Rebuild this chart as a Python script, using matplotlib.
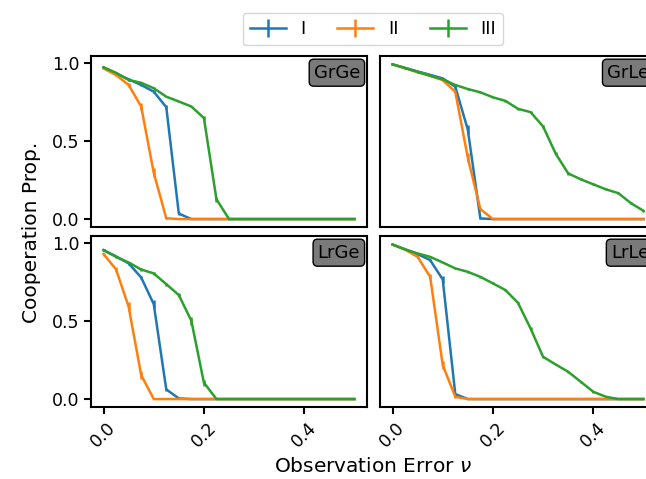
import matplotlib
matplotlib.use("Agg")
import matplotlib.pyplot as plt

nu = [0.0, 0.025, 0.05, 0.075, 0.1, 0.125, 0.15, 0.175, 0.2, 0.225, 0.25,
      0.275, 0.3, 0.325, 0.35, 0.375, 0.4, 0.425, 0.45, 0.475, 0.5]

panels = ["GrGe", "GrLe", "LrGe", "LrLe"]
series = ["I", "II", "III"]
colors = ["#1f77b4", "#ff7f0e", "#2ca02c"]

# GrGe
grge_I = [0.973, 0.934, 0.896, 0.860, 0.817, 0.718, 0.035, 0.0, 0.0, 0.0, 0.0,
          0.0, 0.0, 0.0, 0.0, 0.0, 0.0, 0.0, 0.0, 0.0, 0.0]
grge_II = [0.966, 0.924, 0.860, 0.722, 0.297, 0.005, 0.0, 0.0, 0.0, 0.0, 0.0,
           0.0, 0.0, 0.0, 0.0, 0.0, 0.0, 0.0, 0.0, 0.0, 0.0]
grge_III = [0.973, 0.938, 0.892, 0.874, 0.839, 0.785, 0.754, 0.722, 0.648, 0.127, 0.0,
            0.0, 0.0, 0.0, 0.0, 0.0, 0.0, 0.0, 0.0, 0.0, 0.0]
grge_I_err = [0.005, 0.005, 0.008, 0.008, 0.01, 0.015, 0.01, 0.0, 0.0, 0.0, 0.0,
              0.0, 0.0, 0.0, 0.0, 0.0, 0.0, 0.0, 0.0, 0.0, 0.0]
grge_II_err = [0.005, 0.008, 0.01, 0.025, 0.03, 0.005, 0.0, 0.0, 0.0, 0.0, 0.0,
               0.0, 0.0, 0.0, 0.0, 0.0, 0.0, 0.0, 0.0, 0.0, 0.0]
grge_III_err = [0.005, 0.005, 0.005, 0.005, 0.005, 0.005, 0.005, 0.005, 0.01, 0.015, 0.0,
                0.0, 0.0, 0.0, 0.0, 0.0, 0.0, 0.0, 0.0, 0.0, 0.0]

# GrLe
grle_I = [0.992, 0.970, 0.947, 0.925, 0.902, 0.849, 0.573, 0.004, 0.0, 0.0, 0.0,
          0.0, 0.0, 0.0, 0.0, 0.0, 0.0, 0.0, 0.0, 0.0, 0.0]
grle_II = [0.992, 0.968, 0.943, 0.919, 0.891, 0.817, 0.393, 0.064, 0.0, 0.0, 0.0,
           0.0, 0.0, 0.0, 0.0, 0.0, 0.0, 0.0, 0.0, 0.0, 0.0]
grle_III = [0.992, 0.968, 0.943, 0.919, 0.896, 0.860, 0.834, 0.813, 0.781, 0.758, 0.707,
            0.686, 0.594, 0.420, 0.293, 0.255, 0.223, 0.191, 0.166, 0.102, 0.053]
grle_I_err = [0.004, 0.004, 0.004, 0.004, 0.005, 0.01, 0.03, 0.005, 0.0, 0.0, 0.0,
              0.0, 0.0, 0.0, 0.0, 0.0, 0.0, 0.0, 0.0, 0.0, 0.0]
grle_II_err = [0.004, 0.004, 0.004, 0.004, 0.005, 0.01, 0.03, 0.01, 0.0, 0.0, 0.0,
               0.0, 0.0, 0.0, 0.0, 0.0, 0.0, 0.0, 0.0, 0.0, 0.0]
grle_III_err = [0.004, 0.004, 0.004, 0.004, 0.004, 0.005, 0.005, 0.005, 0.005, 0.006, 0.006,
                0.008, 0.008, 0.012, 0.008, 0.006, 0.006, 0.006, 0.006, 0.008, 0.008]

# LrGe
lrge_I = [0.955, 0.915, 0.870, 0.780, 0.609, 0.062, 0.004, 0.0, 0.0, 0.0, 0.0,
          0.0, 0.0, 0.0, 0.0, 0.0, 0.0, 0.0, 0.0, 0.0, 0.0]
lrge_II = [0.930, 0.831, 0.592, 0.154, 0.0, 0.0, 0.0, 0.0, 0.0, 0.0, 0.0,
           0.0, 0.0, 0.0, 0.0, 0.0, 0.0, 0.0, 0.0, 0.0, 0.0]
lrge_III = [0.955, 0.912, 0.876, 0.831, 0.806, 0.737, 0.667, 0.502, 0.105, 0.0, 0.0,
            0.0, 0.0, 0.0, 0.0, 0.0, 0.0, 0.0, 0.0, 0.0, 0.0]
lrge_I_err = [0.005, 0.005, 0.008, 0.012, 0.025, 0.01, 0.003, 0.0, 0.0, 0.0, 0.0,
              0.0, 0.0, 0.0, 0.0, 0.0, 0.0, 0.0, 0.0, 0.0, 0.0]
lrge_II_err = [0.01, 0.015, 0.03, 0.025, 0.0, 0.0, 0.0, 0.0, 0.0, 0.0, 0.0,
               0.0, 0.0, 0.0, 0.0, 0.0, 0.0, 0.0, 0.0, 0.0, 0.0]
lrge_III_err = [0.005, 0.005, 0.006, 0.008, 0.008, 0.01, 0.015, 0.025, 0.02, 0.0, 0.0,
                0.0, 0.0, 0.0, 0.0, 0.0, 0.0, 0.0, 0.0, 0.0, 0.0]

# LrLe
lrle_I = [0.991, 0.961, 0.930, 0.891, 0.767, 0.032, 0.0, 0.0, 0.0, 0.0, 0.0,
          0.0, 0.0, 0.0, 0.0, 0.0, 0.0, 0.0, 0.0, 0.0, 0.0]
lrle_II = [0.991, 0.959, 0.912, 0.784, 0.218, 0.015, 0.0, 0.0, 0.0, 0.0, 0.0,
           0.0, 0.0, 0.0, 0.0, 0.0, 0.0, 0.0, 0.0, 0.0, 0.0]
lrle_III = [0.991, 0.959, 0.934, 0.912, 0.876, 0.838, 0.816, 0.784, 0.742, 0.699, 0.617,
            0.453, 0.271, 0.222, 0.175, 0.111, 0.047, 0.015, 0.0, 0.0, 0.0]
lrle_I_err = [0.004, 0.004, 0.005, 0.008, 0.02, 0.01, 0.0, 0.0, 0.0, 0.0, 0.0,
              0.0, 0.0, 0.0, 0.0, 0.0, 0.0, 0.0, 0.0, 0.0, 0.0]
lrle_II_err = [0.004, 0.004, 0.008, 0.015, 0.025, 0.008, 0.0, 0.0, 0.0, 0.0, 0.0,
               0.0, 0.0, 0.0, 0.0, 0.0, 0.0, 0.0, 0.0, 0.0, 0.0]
lrle_III_err = [0.004, 0.004, 0.004, 0.005, 0.005, 0.005, 0.005, 0.006, 0.006, 0.006, 0.008,
                0.012, 0.008, 0.006, 0.006, 0.006, 0.005, 0.004, 0.0, 0.0, 0.0]

values = [
    [grge_I, grge_II, grge_III],
    [grle_I, grle_II, grle_III],
    [lrge_I, lrge_II, lrge_III],
    [lrle_I, lrle_II, lrle_III],
]
errors = [
    [grge_I_err, grge_II_err, grge_III_err],
    [grle_I_err, grle_II_err, grle_III_err],
    [lrge_I_err, lrge_II_err, lrge_III_err],
    [lrle_I_err, lrle_II_err, lrle_III_err],
]

plt.rcParams["axes.linewidth"] = 1.5
plt.rcParams["xtick.major.width"] = 1.5
plt.rcParams["ytick.major.width"] = 1.5
plt.rcParams["xtick.major.size"] = 5
plt.rcParams["ytick.major.size"] = 5
plt.rcParams["xtick.labelsize"] = 12.5
plt.rcParams["ytick.labelsize"] = 12.5

fig = plt.figure(figsize=(6.46, 4.79), dpi=100)
W, H = 646, 479
# axes boxes in pixels (left, top, width, height); right column runs past the figure edge
boxes = [(91, 56, 276, 171), (380, 56, 276, 171),
         (91, 236, 276, 171), (380, 236, 276, 171)]
axes = []
for i, (l, t, w, h) in enumerate(boxes):
    ax = fig.add_axes([l / W, 1 - (t + h) / H, w / W, h / H],
                      sharex=axes[0] if axes else None,
                      sharey=axes[0] if axes else None)
    axes.append(ax)

handles = []
for i, ax in enumerate(axes):
    for j in range(3):
        eb = ax.errorbar(nu, values[i][j], yerr=errors[i][j], color=colors[j],
                         elinewidth=1.8, lw=1.8, label=series[j])
        if i == 0:
            handles.append(eb)
    ax.text(0.975, 0.955, panels[i], transform=ax.transAxes, ha="right", va="top",
            fontsize=13,
            bbox=dict(boxstyle="round,pad=0.25", facecolor="#7a7a7a", edgecolor="black"))
    ax.set_xticks([0.0, 0.2, 0.4])
    ax.set_yticks([0.0, 0.5, 1.0])
    if i < 2:
        ax.tick_params(bottom=False, labelbottom=False)
    else:
        for lab in ax.get_xticklabels():
            lab.set_rotation(45)
    if i % 2 == 1:
        ax.tick_params(left=False, labelleft=False)

axes[0].set_xlim(-0.025, 0.525)

fig.legend(handles, series, loc="upper center", ncol=3,
           bbox_to_anchor=(373 / W, 1 - 4 / H), handlelength=2.0,
           columnspacing=1.75, fontsize=13)
fig.text(32 / W, 1 - 232 / H, "Cooperation Prop.", rotation=90,
         ha="center", va="center", fontsize=14.5)
fig.text(373 / W, 1 - 466 / H, "Observation Error $\\nu$",
         ha="center", va="center", fontsize=14.5)

fig.savefig("out.png", dpi=100)
